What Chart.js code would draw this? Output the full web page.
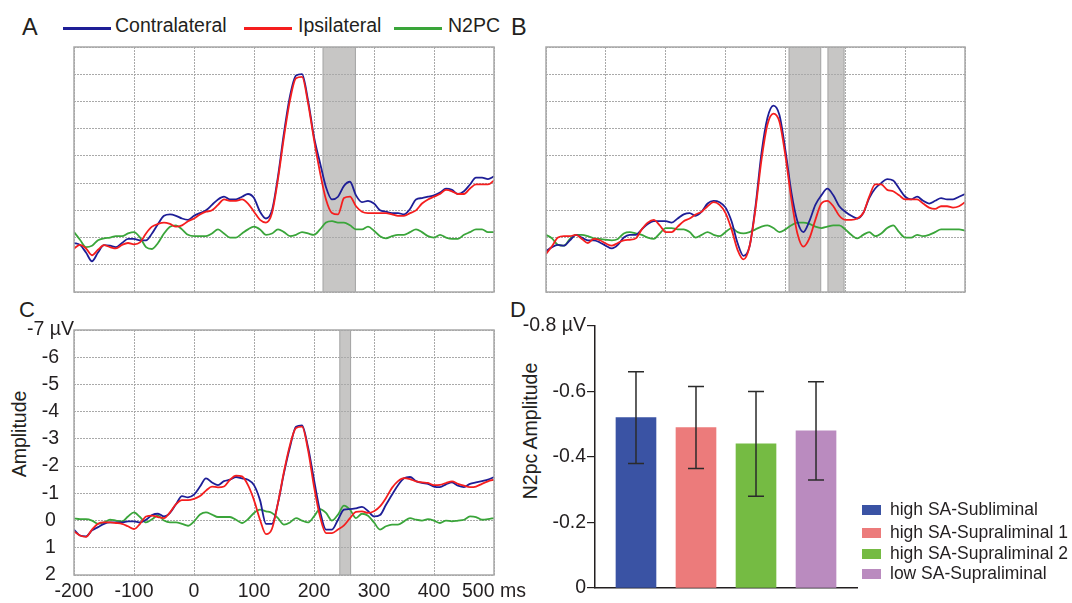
<!DOCTYPE html>
<html>
<head>
<meta charset="utf-8">
<script src="https://cdn.jsdelivr.net/npm/chart.js"></script>
<style>
  body { margin: 0; background: #fff; }
  #fig { position: relative; width: 1072px; height: 603px; background: #fff; overflow: hidden;
         font-family: "Liberation Sans", Arial, sans-serif; color: #231f20; }
  .box { position: absolute; }
  .txt { position: absolute; white-space: nowrap; line-height: 1; }
  .letter { font-size: 23.5px; }
  .rot { position: absolute; white-space: nowrap; line-height: 1; font-size: 19.5px;
         transform: translate(-50%, -50%) rotate(-90deg); }
  .swatch { position: absolute; height: 2.5px; }
  .key { position: absolute; width: 19px; height: 10px; }
</style>
</head>
<body>
<div id="fig">
  <div class="txt letter" style="left:22px;top:16px">A</div>
  <div class="txt letter" style="left:511px;top:16px">B</div>
  <div class="txt letter" style="left:19px;top:299px;font-size:22px">C</div>
  <div class="txt letter" style="left:510px;top:299px;font-size:22px">D</div>

  <div id="topLegend"></div>

  <div class="rot" style="left:20px;top:434px">Amplitude</div>
  <div class="rot" style="left:531px;top:431px">N2pc Amplitude</div>

  <div class="box" style="left:70px;top:43px;width:428px;height:253px"><canvas id="chartA"></canvas></div>
  <div class="box" style="left:542px;top:43px;width:427px;height:253px"><canvas id="chartB"></canvas></div>
  <div class="box" style="left:0px;top:300px;width:540px;height:303px"><canvas id="chartC"></canvas></div>
  <div class="box" style="left:500px;top:300px;width:370px;height:303px"><canvas id="chartD"></canvas></div>

  <div id="barLegend"></div>
</div>

<script>
// time axis (ms), one sample every 10 ms
const times = [-200,-190,-180,-170,-160,-150,-140,-130,-120,-110,
  -100,-90,-80,-70,-60,-50,-40,-30,-20,-10,
  0,10,20,30,40,50,60,70,80,90,
  100,110,120,130,140,150,160,170,180,190,
  200,210,220,230,240,250,260,270,280,290,
  300,310,320,330,340,350,360,370,380,390,
  400,410,420,430,440,450,460,470,480,490,
  500];

// panel A (µV)
const contraA = [0.2,0.27,0.55,0.87,0.55,0.28,0.3,0.35,0.2,0.05,
  0.05,0.1,0.1,-0.15,-0.5,-0.8,-0.85,-0.8,-0.7,-0.65,
  -0.8,-0.9,-1.0,-1.2,-1.4,-1.5,-1.4,-1.4,-1.5,-1.6,
  -1.45,-0.95,-0.7,-1.0,-2.25,-3.85,-5.2,-5.95,-6.0,-5.05,
  -3.7,-2.75,-1.85,-1.4,-1.5,-1.9,-2.05,-1.55,-1.3,-1.35,
  -1.25,-1.0,-0.95,-0.9,-0.9,-0.85,-1.05,-1.4,-1.45,-1.5,
  -1.55,-1.65,-1.8,-1.75,-1.6,-1.7,-1.95,-2.2,-2.2,-2.15,
  -2.25];
const ipsiA = [0.4,0.27,0.4,0.65,0.45,0.28,0.35,0.4,0.27,0.2,
  0.25,0.18,-0.15,-0.4,-0.5,-0.55,-0.5,-0.4,-0.45,-0.6,
  -0.7,-0.85,-0.95,-1.0,-1.2,-1.4,-1.35,-1.35,-1.4,-1.25,
  -0.95,-0.65,-0.55,-0.9,-2.15,-3.7,-5.05,-5.85,-5.9,-4.95,
  -3.6,-2.4,-1.4,-0.9,-0.85,-1.45,-1.5,-1.15,-0.95,-0.9,
  -0.9,-0.9,-0.9,-0.85,-0.8,-0.8,-0.9,-1.0,-1.25,-1.4,
  -1.5,-1.6,-1.75,-1.7,-1.6,-1.6,-1.8,-1.95,-1.95,-1.95,
  -2.1];
const n2pcA = [-0.2,0.08,0.35,0.3,0.1,0.03,0.0,-0.05,-0.05,-0.15,
  -0.2,0.0,0.35,0.42,0.2,-0.15,-0.4,-0.45,-0.3,-0.1,
  -0.05,-0.05,-0.05,-0.15,-0.3,-0.15,0.0,0.0,-0.15,-0.3,
  -0.4,-0.3,-0.1,-0.15,-0.3,-0.2,-0.05,-0.1,-0.2,-0.15,
  -0.1,-0.3,-0.55,-0.6,-0.55,-0.55,-0.45,-0.3,-0.3,-0.4,
  -0.25,-0.05,0.03,-0.05,-0.1,-0.1,-0.2,-0.3,-0.2,-0.05,
  0.0,-0.1,0.0,0.05,0.05,-0.1,-0.2,-0.3,-0.3,-0.2,
  -0.2];

// panel B
const contraB = [0.5,0.35,0.27,0.3,0.1,-0.1,0.0,0.1,0.1,0.18,
  0.3,0.4,0.27,0.0,-0.1,-0.1,-0.3,-0.5,-0.6,-0.6,
  -0.6,-0.55,-0.7,-0.85,-0.9,-0.8,-0.95,-1.25,-1.35,-1.3,
  -1.1,-0.6,0.2,0.67,0.33,-1.15,-3.1,-4.4,-4.85,-4.5,
  -3.2,-1.65,-0.6,-0.2,-0.6,-1.2,-1.55,-1.8,-1.55,-1.15,
  -0.95,-0.8,-0.7,-0.9,-1.45,-1.8,-2.0,-2.15,-2.1,-1.8,
  -1.5,-1.4,-1.5,-1.35,-1.25,-1.35,-1.45,-1.4,-1.4,-1.5,
  -1.6];
const ipsiB = [0.6,0.32,0.0,-0.05,-0.05,-0.1,0.05,0.2,0.05,0.1,
  0.22,0.3,0.2,0.1,0.08,0.03,-0.3,-0.55,-0.65,-0.45,
  -0.2,-0.2,-0.4,-0.6,-0.7,-0.85,-0.95,-1.15,-1.3,-1.2,
  -0.9,-0.3,0.45,0.8,0.33,-1.05,-2.85,-4.15,-4.55,-4.25,
  -3.0,-1.4,-0.15,0.33,0.03,-0.65,-1.25,-1.35,-1.15,-0.8,
  -0.65,-0.65,-0.7,-0.9,-1.5,-1.95,-1.95,-1.75,-1.7,-1.55,
  -1.4,-1.4,-1.4,-1.25,-1.1,-1.05,-1.15,-1.15,-1.1,-1.15,
  -1.3];
const n2pcB = [-0.1,0.03,0.27,0.3,0.05,-0.1,-0.1,-0.05,0.03,0.05,
  0.08,0.1,0.05,-0.15,-0.2,-0.15,-0.1,0.0,0.05,-0.15,
  -0.35,-0.35,-0.3,-0.3,-0.2,0.0,-0.1,-0.2,-0.1,-0.05,
  -0.2,-0.35,-0.2,-0.15,-0.2,-0.3,-0.4,-0.45,-0.35,-0.2,
  -0.3,-0.45,-0.55,-0.55,-0.5,-0.4,-0.35,-0.4,-0.45,-0.45,
  -0.3,-0.1,0.03,-0.1,-0.2,-0.05,-0.15,-0.35,-0.45,-0.2,
  0.0,0.0,-0.1,-0.05,-0.1,-0.2,-0.3,-0.3,-0.3,-0.3,
  -0.25];

// panel C
const contraC = [0.33,0.55,0.58,0.36,0.24,0.12,0.07,0.07,0.07,0.03,
  0.03,0.07,-0.03,-0.2,-0.25,-0.15,-0.28,-0.6,-0.9,-0.85,
  -0.95,-1.25,-1.55,-1.4,-1.3,-1.45,-1.5,-1.6,-1.55,-1.5,
  -1.3,-0.75,0.12,0.12,-0.65,-1.75,-2.7,-3.45,-3.5,-2.7,
  -1.5,-0.35,0.33,0.33,-0.03,-0.4,-0.42,-0.45,-0.5,-0.35,
  -0.15,-0.2,-0.58,-0.95,-1.3,-1.55,-1.6,-1.45,-1.38,-1.35,
  -1.25,-1.23,-1.33,-1.4,-1.28,-1.23,-1.35,-1.4,-1.45,-1.5,
  -1.6];
const ipsiC = [0.4,0.55,0.6,0.33,0.12,0.07,0.07,0.09,0.12,0.21,
  0.31,0.12,-0.15,-0.18,-0.13,-0.09,-0.3,-0.6,-0.75,-0.75,
  -0.8,-0.9,-1.1,-1.25,-1.22,-1.25,-1.5,-1.65,-1.62,-1.3,
  -0.75,-0.03,0.5,0.3,-0.65,-1.8,-2.78,-3.4,-3.45,-2.6,
  -1.25,-0.15,0.46,0.46,0.33,0.18,-0.09,-0.32,-0.34,-0.28,
  -0.34,-0.52,-0.83,-1.2,-1.45,-1.56,-1.52,-1.44,-1.4,-1.38,
  -1.3,-1.31,-1.38,-1.44,-1.35,-1.28,-1.23,-1.25,-1.35,-1.44,
  -1.5];
const n2pcC = [-0.08,-0.05,-0.05,0.0,0.12,0.07,-0.03,0.0,0.03,-0.15,
  -0.3,-0.13,0.07,-0.05,-0.18,0.0,0.07,0.07,0.12,0.19,
  0.03,-0.22,-0.3,-0.22,-0.13,-0.13,-0.13,-0.03,0.09,-0.05,
  -0.28,-0.4,-0.34,-0.28,-0.09,0.15,0.07,-0.09,0.0,0.07,
  -0.15,-0.42,-0.28,0.0,-0.22,-0.55,-0.4,-0.09,-0.25,-0.18,
  0.07,0.33,0.21,0.15,0.15,0.03,-0.09,-0.03,0.0,-0.05,
  0.0,0.09,0.0,0.03,0.0,-0.03,-0.15,-0.13,-0.03,-0.05,
  -0.09];

// grey analysis windows (ms)
const windowsA = [[215, 269]];
const windowsB = [[206, 259], [271, 298]];
const windowsC = [[243, 261]];

// panel D: mean N2pc amplitude and error (µV)
const conditions = ['high SA-Subliminal', 'high SA-Supraliminal 1', 'high SA-Supraliminal 2', 'low SA-Supraliminal'];
const n2pcMean = [-0.52, -0.49, -0.44, -0.48];
const n2pcErr = [0.14, 0.125, 0.16, 0.15];

const seriesNames = ['Contralateral', 'Ipsilateral', 'N2PC'];
const seriesColors = ['#1e1e96', '#f51e1e', '#3aa53a'];
const barColors = ['#3a53a4', '#ec7b7b', '#75bb43', '#ba8bbf'];

Chart.defaults.font.family = '"Liberation Sans", Arial, sans-serif';
Chart.defaults.color = '#231f20';

const ink = '#231f20';
const gridColor = '#a9a9a9';

// top legend
const legendPos = [{line: 63, text: 115}, {line: 244, text: 298}, {line: 394, text: 448}];
const topLegend = document.getElementById('topLegend');
seriesNames.forEach((name, i) => {
  const sw = document.createElement('div');
  sw.className = 'swatch';
  sw.style.cssText = `left:${legendPos[i].line}px;top:27px;width:48px;background:${seriesColors[i]}`;
  topLegend.appendChild(sw);
  const t = document.createElement('div');
  t.className = 'txt';
  t.style.cssText = `left:${legendPos[i].text}px;top:16px;font-size:19.5px`;
  t.textContent = name;
  topLegend.appendChild(t);
});

// bar legend
const barLegend = document.getElementById('barLegend');
const keyRows = [505, 528, 549, 569];
conditions.forEach((c, i) => {
  const k = document.createElement('div');
  k.className = 'key';
  k.style.cssText = `left:862px;top:${keyRows[i]}px;background:${barColors[i]}`;
  barLegend.appendChild(k);
  const t = document.createElement('div');
  t.className = 'txt';
  t.style.cssText = `left:890px;top:${keyRows[i] - 4}px;font-size:17.5px`;
  t.textContent = c;
  barLegend.appendChild(t);
});

const windowPlugin = {
  id: 'windows',
  beforeDraw(chart, args, opts) {
    const {ctx, chartArea: a, scales: {x}} = chart;
    ctx.save();
    (opts.ranges || []).forEach(([t0, t1]) => {
      const x0 = x.getPixelForValue(t0), x1 = x.getPixelForValue(t1);
      ctx.fillStyle = '#c7c6c5';
      ctx.fillRect(x0, a.top, x1 - x0, a.bottom - a.top);
      ctx.strokeStyle = '#a3a3a3';
      ctx.lineWidth = 1;
      ctx.beginPath();
      ctx.moveTo(x0, a.top); ctx.lineTo(x0, a.bottom);
      ctx.moveTo(x1, a.top); ctx.lineTo(x1, a.bottom);
      ctx.stroke();
    });
    ctx.restore();
  },
  afterDraw(chart) {
    const {ctx, chartArea: a} = chart;
    ctx.save();
    ctx.strokeStyle = '#a8a8a8';
    ctx.lineWidth = 1.5;
    ctx.strokeRect(a.left, a.top, a.right - a.left, a.bottom - a.top);
    ctx.restore();
  }
};

function erpChart(id, contra, ipsi, n2pc, ranges, withLabels) {
  const pts = arr => times.map((t, i) => ({x: t, y: arr[i]}));
  const line = (label, arr, color, order) => ({
    label, data: pts(arr), borderColor: color, borderWidth: 1.8,
    pointRadius: 0, cubicInterpolationMode: 'monotone', fill: false, order
  });
  return new Chart(document.getElementById(id), {
    type: 'line',
    data: {
      datasets: [
        line(seriesNames[0], contra, seriesColors[0], 2),
        line(seriesNames[1], ipsi, seriesColors[1], 1),
        line(seriesNames[2], n2pc, seriesColors[2], 3)
      ]
    },
    options: {
      responsive: true, maintainAspectRatio: false, animation: false,
      layout: { padding: withLabels ? {top: 30, right: 46, left: 0, bottom: 0} : 4 },
      plugins: { legend: {display: false}, tooltip: {enabled: false}, windows: {ranges} },
      scales: {
        x: {
          type: 'linear', min: -200, max: 500,
          grid: { color: gridColor, lineWidth: 1, drawTicks: false },
          border: { display: false, dash: [2, 1] },
          ticks: {
            display: withLabels, stepSize: 100, autoSkip: false, maxRotation: 0, padding: 5,
            font: {size: 19.5}, color: ink,
            callback: v => v === 500 ? '500 ms' : v
          },
          afterFit: withLabels ? s => { s.height = 28; } : undefined
        },
        y: {
          reverse: true, min: -7, max: 2,
          grid: { color: gridColor, lineWidth: 1, drawTicks: false },
          border: { display: false, dash: [2, 1] },
          ticks: {
            display: withLabels, stepSize: 1, padding: 0, crossAlign: 'center',
            font: {size: 19.5}, color: ink,
            callback: v => v === -7 ? '-7 µV' : v
          },
          afterFit: withLabels ? s => { s.width = 74; } : undefined
        }
      }
    },
    plugins: [windowPlugin]
  });
}

erpChart('chartA', contraA, ipsiA, n2pcA, windowsA, false);
erpChart('chartB', contraB, ipsiB, n2pcB, windowsB, false);
erpChart('chartC', contraC, ipsiC, n2pcC, windowsC, true);

const errorBars = {
  id: 'errorBars',
  afterDatasetsDraw(chart) {
    const {ctx, scales: {x, y}} = chart;
    ctx.save();
    ctx.strokeStyle = '#2b2b2b';
    ctx.lineWidth = 1.5;
    n2pcMean.forEach((m, i) => {
      const px = x.getPixelForValue(i);
      const yHi = y.getPixelForValue(m - n2pcErr[i]);
      const yLo = y.getPixelForValue(m + n2pcErr[i]);
      ctx.beginPath();
      ctx.moveTo(px, yHi); ctx.lineTo(px, yLo);
      ctx.moveTo(px - 8, yHi); ctx.lineTo(px + 8, yHi);
      ctx.moveTo(px - 8, yLo); ctx.lineTo(px + 8, yLo);
      ctx.stroke();
    });
    ctx.restore();
  }
};

new Chart(document.getElementById('chartD'), {
  type: 'bar',
  data: {
    datasets: [{
      label: 'N2pc',
      data: n2pcMean.map((v, i) => ({x: i, y: v})),
      backgroundColor: barColors,
      barThickness: 40
    }]
  },
  options: {
    responsive: true, maintainAspectRatio: false, animation: false,
    layout: { padding: {top: 26, right: 13, left: 0, bottom: 0} },
    plugins: { legend: {display: false}, tooltip: {enabled: false} },
    scales: {
      x: {
        type: 'linear', min: -0.683, max: 3.683, offset: false,
        grid: { display: false },
        border: { color: ink, width: 1.5 },
        ticks: { display: false },
        afterFit: s => { s.height = 15; }
      },
      y: {
        reverse: true, min: -0.8, max: 0,
        grid: { drawOnChartArea: false, drawTicks: true, tickLength: 8, color: ink, lineWidth: 1.2 },
        border: { color: ink, width: 1.5 },
        ticks: {
          stepSize: 0.2, padding: 1, font: {size: 19.5}, color: ink,
          callback: v => {
            const r = Math.round(v * 10) / 10;
            if (r === -0.8) return '-0.8 µV';
            return r === 0 ? '0' : r.toFixed(1);
          }
        },
        afterFit: s => { s.width = 95; }
      }
    }
  },
  plugins: [errorBars]
});
</script>
</body>
</html>
